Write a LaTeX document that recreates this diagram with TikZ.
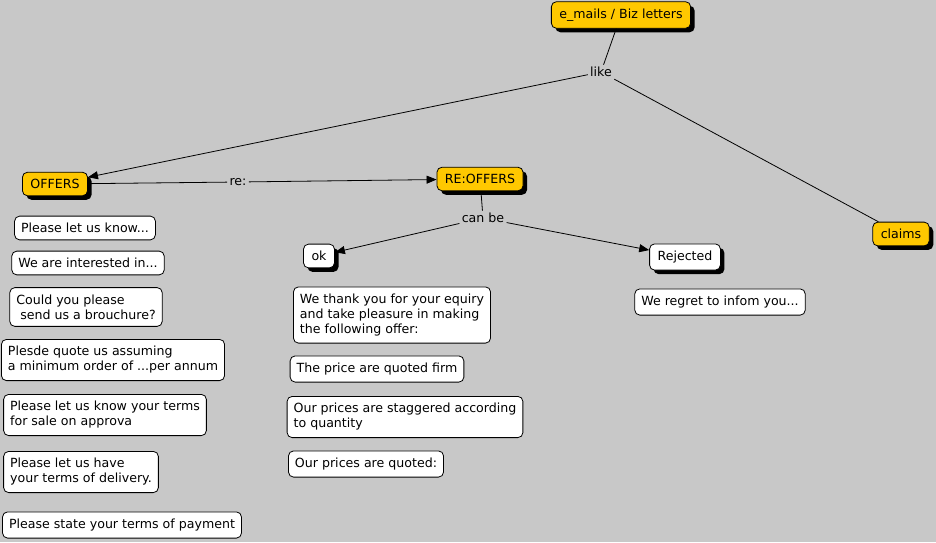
\documentclass[tikz,border=0pt]{standalone}
\usepackage{fontspec}
\setmainfont{DejaVu Sans}
\usepackage{tikz}
\usetikzlibrary{arrows.meta,shadows}

\definecolor{mapbg}{RGB}{200,200,200}
\definecolor{cmapyellow}{RGB}{255,200,0}

\begin{document}
\begin{tikzpicture}[
x=1pt,y=-1pt,
font=\fontsize{12.6}{15}\selectfont,
line width=0.8pt,
concept/.style={draw,rounded corners=5pt,fill=cmapyellow,align=center,inner xsep=8pt,inner ysep=7pt,
  drop shadow={shadow xshift=4pt,shadow yshift=-4pt,fill=black,opacity=1}},
answer/.style={concept,fill=white},
note/.style={draw,rounded corners=5pt,fill=white,align=left,inner xsep=6.5pt,inner ysep=7pt},
phrase/.style={fill=mapbg,inner sep=2pt},
link/.style={line width=0.8pt},
arrow/.style={-{Triangle[length=10pt,width=8pt]},line width=0.8pt}
]
\fill[mapbg] (0,0) rectangle (936,542);
% concepts
\node[concept] (emails) at (621,15) {e\_mails / Biz letters};
\node[concept] (offers) at (55,184) {OFFERS};
\node[concept] (reoffers) at (480,179) {RE:OFFERS};
\node[concept] (claims) at (901,234) {claims};
\node[answer] (ok) at (319,256) {ok};
\node[answer] (rejected) at (685,257) {Rejected};
% linking phrases
\node[phrase] (like) at (601,72) {like};
\node[phrase] (re) at (238,182) {re:};
\node[phrase] (canbe) at (483,218) {can be};
% notes under OFFERS
\node[note] (know) at (85,228) {Please let us know...};
\node[note] (interested) at (88,263) {We are interested in...};
\node[note] (brochure) at (86,307) {Could you please\\\ send us a brouchure?};
\node[note] (quote) at (113,360) {Plesde quote us assuming\\a minimum order of ...per annum};
\node[note] (approval) at (105,415) {Please let us know your terms\\for sale on approva};
\node[note] (delivery) at (81,472) {Please let us have\\your terms of delivery.};
\node[note] (payment) at (122,525) {Please state your terms of payment};
% notes under ok
\node[note] (thank) at (392,315) {We thank you for your equiry\\and take pleasure in making\\the following offer:};
\node[note] (firm) at (377,369) {The price are quoted firm};
\node[note] (staggered) at (405,417) {Our prices are staggered according\\to quantity};
\node[note] (quoted) at (366,464) {Our prices are quoted:};
% note under Rejected
\node[note] (regret) at (720,302) {We regret to infom you...};
% connectors
\draw[link] (emails) -- (like);
\draw[arrow] (like) -- (offers);
\draw[link] (like) -- (claims);
\draw[link] (offers) -- (re);
\draw[arrow] (re) -- (reoffers);
\draw[link] (reoffers) -- (canbe);
\draw[arrow] (canbe) -- (ok);
\draw[arrow] (canbe) -- (rejected);
\end{tikzpicture}
\end{document}
